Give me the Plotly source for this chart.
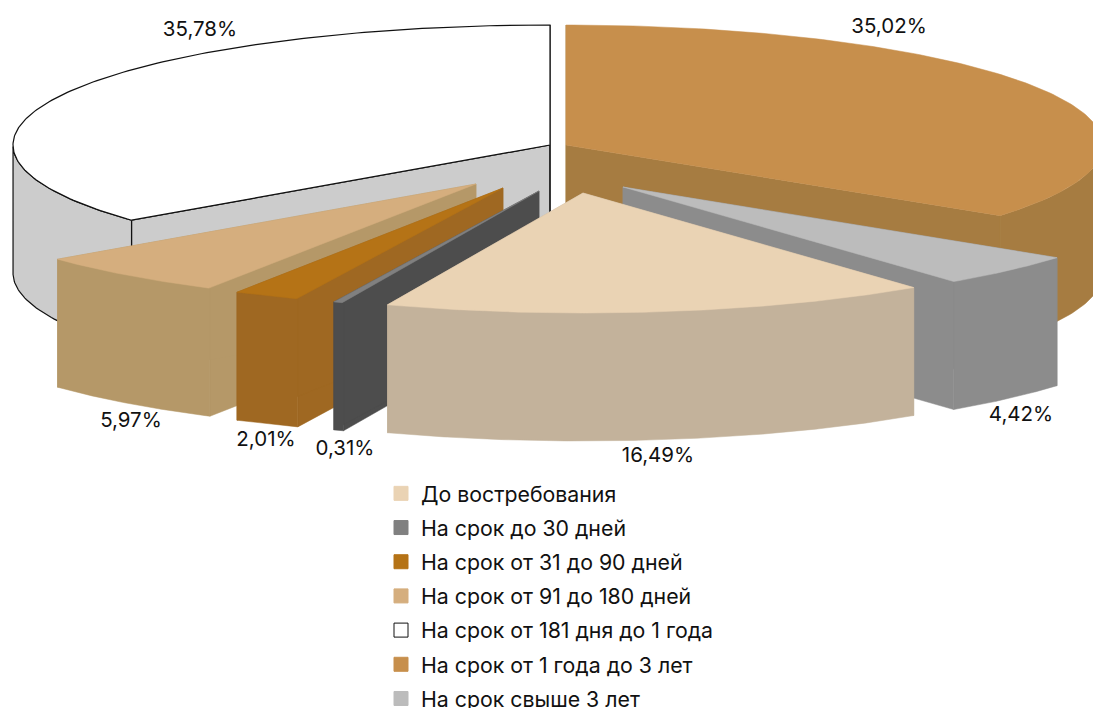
"""Exploded 3D-look pie of deposit terms, drawn as projected polygons."""

import numpy as np
import plotly.graph_objects as go

# ── Data ─────────────────────────────────────────────────────────────────────
categories = [
    "До востребования",
    "На срок до 30 дней",
    "На срок от 31 до 90 дней",
    "На срок от 91 до 180 дней",
    "На срок от 181 дня до 1 года",
    "На срок от 1 года до 3 лет",
    "На срок свыше 3 лет",
]
shares = [16.49, 4.42, 2.01, 5.97, 35.78, 35.02, 0.31]

legend_colors = ["#EAD3B4", "#808080", "#B57316", "#D5AE7E", "#FFFFFF", "#C78F4C", "#BCBCBC"]
top_colors = ["#EAD3B4", "#BCBCBC", "#B57316", "#D5AE7E", "#FFFFFF", "#C78F4C", "#808080"]
wall_colors = ["#C3B29B", "#8C8C8C", "#9F6822", "#B59868", "#CCCCCC", "#A67C41", "#4D4D4D"]

# clockwise from 12 o'clock, then back-to-front paint order
pie_order = [5, 1, 0, 6, 2, 3, 4]
paint_order = [4, 5, 1, 3, 2, 6, 0]

# ── Projection (pixels) ──────────────────────────────────────────────────────
WIDTH, HEIGHT = 1093, 708
RX, RY, DEPTH = 537, 120, 128
apex = {0: (583, 193), 1: (623, 187), 2: (503, 188), 3: (476, 184),
        4: (550, 145), 5: (566, 145), 6: (539, 191)}
label_pos = {0: (658, 457), 1: (1021, 416), 2: (266, 441), 3: (131, 422),
             4: (200, 31), 5: (889, 28), 6: (345, 450)}
FONT = "Inter, Liberation Sans, Arial, sans-serif"

fig = go.Figure()


def add_poly(xs, ys, fill, line=None):
    fig.add_trace(go.Scatter(
        x=xs, y=ys, mode="lines", fill="toself", fillcolor=fill,
        line=dict(color=line or fill, width=1.2 if line else 0.5),
        showlegend=False, hoverinfo="skip",
    ))


# angular span of every slice, from its share
spans = {}
start = 0.0
for i in pie_order:
    spans[i] = (start, start + shares[i] * 3.6)
    start += shares[i] * 3.6

for i in paint_order:
    cx, cy = apex[i]
    a0, a1 = np.radians(spans[i])
    theta = np.linspace(a0, a1, 160)
    ax = cx + RX * np.sin(theta)
    ay = cy - RY * np.cos(theta)
    edge = "#111111" if i == 4 else None

    # two cut faces, outer rim (front half only), top
    for k in (0, -1):
        add_poly([cx, ax[k], ax[k], cx, cx], [cy, ay[k], ay[k] + DEPTH, cy + DEPTH, cy],
                 wall_colors[i], edge)
    front = np.cos(theta) < 0.0
    rx, ry = ax[front], ay[front]
    add_poly(np.r_[rx, rx[::-1], rx[0]], np.r_[ry, ry[::-1] + DEPTH, ry[0]],
             wall_colors[i], edge)
    add_poly(np.r_[cx, ax, cx], np.r_[cy, ay, cy], top_colors[i], edge)

# percentage labels
fig.add_trace(go.Scatter(
    x=[label_pos[i][0] for i in range(len(shares))],
    y=[label_pos[i][1] for i in range(len(shares))],
    mode="text",
    text=[f"{v:.2f}%".replace(".", ",") for v in shares],
    textposition="middle center",
    textfont=dict(size=20.5, color="#111111", family=FONT),
    showlegend=False, hoverinfo="skip",
))

# legend entries
for name, color in zip(categories, legend_colors):
    fig.add_trace(go.Scatter(
        x=[None], y=[None], mode="markers", name=name, legendgroup=name,
        marker=dict(symbol="square", size=14, color=color,
                    line=dict(color="#111111" if color == "#FFFFFF" else color, width=1)),
    ))

fig.update_layout(
    width=WIDTH, height=HEIGHT,
    margin=dict(l=0, r=0, t=0, b=0, autoexpand=False),
    paper_bgcolor="white", plot_bgcolor="white",
    font=dict(family=FONT, size=21.3, color="#111111"),
    xaxis=dict(range=[0, WIDTH], visible=False, fixedrange=True),
    yaxis=dict(range=[HEIGHT, 0], visible=False, fixedrange=True),
    legend=dict(x=381 / WIDTH, xanchor="left", y=1 - 473 / HEIGHT, yanchor="top",
                tracegroupgap=3.5, bgcolor="rgba(0,0,0,0)", maxheight=260),
)

fig.write_html("out.html", config=dict(displayModeBar=False),
               post_script="document.body.style.margin='0';")
